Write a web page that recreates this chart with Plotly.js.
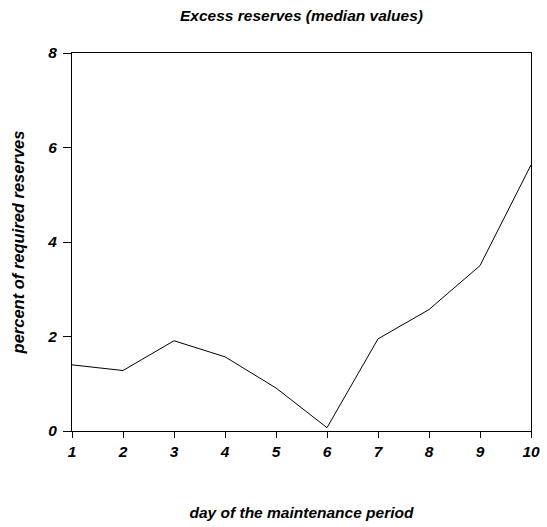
<!DOCTYPE html>
<html>
<head>
<meta charset="utf-8">
<script src="https://cdn.plot.ly/plotly-3.0.1.min.js"></script>
<style>
  body { margin: 0; background: #fff; }
  #chart { width: 547px; height: 527px; }
</style>
</head>
<body>
<div id="chart"></div>
<script>
'use strict'

// day of the maintenance period
let days = [1, 2, 3, 4, 5, 6, 7, 8, 9, 10]
// excess reserves, percent of required reserves (median)
let excess = [1.40, 1.28, 1.91, 1.57, 0.91, 0.07, 1.95, 2.57, 3.50, 5.63]

let yTicks = [0, 2, 4, 6, 8]

let fnt = { family: 'Liberation Sans, Arial, sans-serif', size: 15.5, color: '#000' }

let trace = {
  x: days,
  y: excess,
  type: 'scatter',
  mode: 'lines',
  line: { color: '#000', width: 1 },
  hoverinfo: 'skip'
}

let layout = {
  width: 547,
  height: 527,
  margin: { l: 72, r: 16, t: 53, b: 96 },
  paper_bgcolor: '#fff',
  plot_bgcolor: '#fff',
  showlegend: false,
  font: fnt,
  title: {
    text: '<b><i>Excess reserves (median values)</i></b>',
    font: fnt,
    xref: 'paper',
    x: 0.5,
    xanchor: 'center',
    yref: 'container',
    y: 0.971,
    yanchor: 'middle'
  },
  xaxis: {
    range: [1, 10],
    tickvals: days,
    ticktext: days.map(d => '<b><i>' + d + '</i></b>'),
    ticks: 'outside',
    ticklen: 6,
    tickcolor: '#000',
    tickwidth: 1,
    showline: true,
    linecolor: '#000',
    linewidth: 1,
    mirror: true,
    showgrid: false,
    zeroline: false,
    tickfont: fnt,
    title: {
      text: '<b><i>day of the maintenance period</i></b>',
      font: fnt,
      standoff: 48
    }
  },
  yaxis: {
    range: [0, 8],
    tickvals: yTicks,
    ticktext: yTicks.map(v => '<b><i>' + v + '</i></b>'),
    ticks: 'outside',
    ticklen: 8,
    ticklabelstandoff: 3,
    tickcolor: '#000',
    tickwidth: 1,
    showline: true,
    linecolor: '#000',
    linewidth: 1,
    mirror: true,
    showgrid: false,
    zeroline: false,
    tickfont: fnt,
    title: {
      text: '<b><i>percent of required reserves</i></b>',
      font: { family: fnt.family, size: 16.5, color: '#000' },
      standoff: 18
    }
  }
}

Plotly.newPlot('chart', [trace], layout, { staticPlot: true })
</script>
</body>
</html>
